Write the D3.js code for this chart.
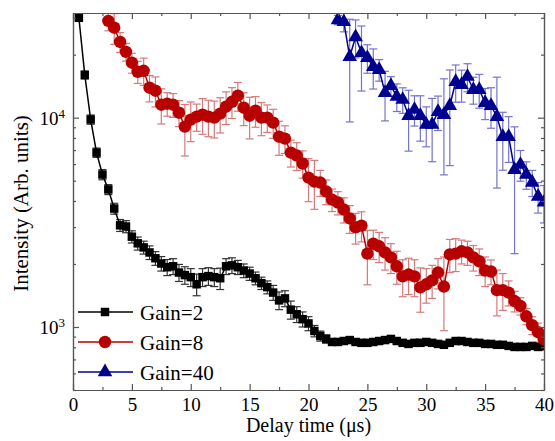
<!DOCTYPE html>
<html>
<head>
<meta charset="utf-8">
<script src="https://cdn.jsdelivr.net/npm/d3@7/dist/d3.min.js"></script>
<style>
  body { margin: 0; background: #fff; }
</style>
</head>
<body>
<div id="chart"></div>
<script>
// ---- data ----
var gain2X = [0.5,1,1.5,2,2.5,3,3.5,4,4.5,5,5.5,6,6.5,7,7.5,8,8.5,9,9.5,10,
              10.5,11,11.5,12,12.5,13,13.5,14,14.5,15,15.5,16,16.5,17,17.5,18,18.5,19,19.5,20,
              20.5,21,21.5,22,22.5,23,23.5,24,24.5,25,25.5,26,26.5,27,27.5,28,28.5,29,29.5,30,
              30.5,31,31.5,32,32.5,33,33.5,34,34.5,35,35.5,36,36.5,37,37.5,38,38.5,39,39.5,40];
var gain2Y = [30000,16000,9800,6810,5350,4540,3680,3060,3020,2700,2510,2400,2270,2130,2010,1930,1950,1820,1770,1730,
              1600,1730,1750,1730,1710,1950,1970,1930,1860,1800,1710,1620,1550,1460,1340,1370,1210,1150,1090,1040,
              957,906,877,848,848,857,866,848,840,840,848,857,866,877,857,840,830,840,840,848,
              840,830,822,840,857,857,848,840,840,830,830,822,822,812,803,803,803,812,803,812];
var gain2Err = [800,700,500,350,300,250,220,200,200,180,180,170,170,160,160,170,170,170,170,170,
                190,170,170,170,200,170,170,150,140,130,120,110,110,120,130,120,120,100,90,80,
                60,50,40,30,25,25,25,25,25,25,25,25,25,25,25,25,25,25,25,25,
                25,25,25,25,25,25,25,25,25,25,25,25,25,25,25,25,25,25,25,25];

var gain8X = [3,3.5,4,4.5,5,5.5,6,6.5,7,7.5,8,8.5,9,9.5,10,10.5,11,11.5,12,12.5,
              13,13.5,14,14.5,15,15.5,16,16.5,17,17.5,18,18.5,19,19.5,20,20.5,21,21.5,22,22.5,
              23,23.5,24,24.5,25,25.5,26,26.5,27,27.5,28,28.5,29,29.5,30,30.5,31,31.5,32,32.5,
              33,33.5,34,34.5,35,35.5,36,36.5,37,37.5,38,38.5,39,39.5,40];
var gain8Y = [29000,26900,23000,20630,18300,16570,16750,13900,13450,11530,11660,11530,10560,9060,9780,10110,10330,10110,10000,10450,
              11280,11910,12730,11160,10220,10800,10000,10000,9465,8110,7940,6810,6590,6040,5170,4950,4900,4440,4060,3930,
              3640,3300,2990,3050,2240,2500,2430,2270,2150,1950,1745,1780,1745,1546,1600,1670,1820,1560,2220,2240,
              2300,2270,2150,2060,1860,1840,1500,1500,1460,1330,1260,1125,1020,944,873];
var gain8Err = [3000,4500,2500,2000,2000,2000,2500,2000,2200,2200,1500,1500,1500,2500,2100,1500,2000,2000,2000,2000,
                2000,2000,2000,2000,2300,1800,1800,1500,1500,1500,1200,1000,1000,900,1200,1300,700,600,500,500,
                500,500,500,500,650,400,400,400,350,350,350,350,350,370,300,300,300,600,400,400,
                300,300,300,300,300,250,370,300,200,150,120,100,100,100,100];

var gain40X = [22.5,23,23.5,24,24.5,25,25.5,26,26.5,27,27.5,28,28.5,29,29.5,30,30.5,31,31.5,32,
               32.5,33,33.5,34,34.5,35,35.5,36,36.5,37,37.5,38,38.5,39,39.5,40];
var gain40Y = [29300,28700,19540,24300,20400,19300,17500,16940,13150,14200,12600,12190,10220,10920,10220,9260,9260,10680,10330,11400,
               14850,14360,15700,13600,13600,11790,11400,10110,8110,8110,5640,5970,5350,4900,4200,3940];
var gain40Err = [1500,3000,10000,5000,7000,3000,3800,2000,3500,1500,1900,1700,3300,1800,2500,2000,3100,2000,5000,5500,
                 3000,2500,2400,2000,2500,2000,2500,5500,2500,2000,3400,1000,800,700,700,800];

var xTicks = [0,5,10,15,20,25,30,35,40];
var xMinorTicks = [2.5,7.5,12.5,17.5,22.5,27.5,32.5,37.5];
var yMajorTicks = [1000,10000];
var legendLabels = ["Gain=2","Gain=8","Gain=40"];

// ---- layout ----
var W = 555, H = 441,
    plot = {left: 73, right: 544, top: 13, bottom: 390},
    serifStyle = "font-family:'Liberation Serif','Times New Roman',Tinos,'DejaVu Serif',serif";

var svg = d3.select("#chart").append("svg")
            .attr("width", W)
            .attr("height", H);

var x = d3.scaleLinear().domain([0, 40]).range([plot.left, plot.right]);
var y = d3.scaleLog().domain([500, 31623]).range([plot.bottom, plot.top]);

var yMinorTicks = y.ticks().filter(function(d) { return yMajorTicks.indexOf(d) < 0; });

var series = [
  {name: legendLabels[0], xs: gain2X, ys: gain2Y, err: gain2Err, color: "#000000", barColor: "#333333", shape: "square"},
  {name: legendLabels[1], xs: gain8X, ys: gain8Y, err: gain8Err, color: "#b80000", barColor: "#d47a7a", shape: "circle"},
  {name: legendLabels[2], xs: gain40X, ys: gain40Y, err: gain40Err, color: "#00008e", barColor: "#7474cc", shape: "triangle"}
];

svg.append("clipPath").attr("id", "clip")
   .append("rect")
   .attr("x", plot.left).attr("y", plot.top)
   .attr("width", plot.right - plot.left)
   .attr("height", plot.bottom - plot.top);

var drawMarker = function(g, shape, color) {
  if (shape === "circle") {
    g.append("circle").attr("r", 6.2).attr("fill", color);
  } else {
    var sym = shape === "square" ? d3.symbolSquare : d3.symbolTriangle;
    var size = shape === "square" ? 72 : 92;
    g.append("path").attr("d", d3.symbol().type(sym).size(size)()).attr("fill", color);
  }
};

var dataG = svg.append("g").attr("clip-path", "url(#clip)");

// error bars first
series.forEach(function(s) {
  var rows = s.xs.map(function(v, i) { return {x: v, y: s.ys[i], e: s.err[i]}; });
  var bars = dataG.append("g").attr("stroke", s.barColor).attr("stroke-width", 1.2).attr("fill", "none");
  rows.forEach(function(d) {
    var lo = Math.max(d.y - d.e, 100), hi = d.y + d.e;
    var px = x(d.x);
    bars.append("line").attr("x1", px).attr("x2", px).attr("y1", y(lo)).attr("y2", y(hi));
    bars.append("line").attr("x1", px - 4).attr("x2", px + 4).attr("y1", y(lo)).attr("y2", y(lo));
    bars.append("line").attr("x1", px - 4).attr("x2", px + 4).attr("y1", y(hi)).attr("y2", y(hi));
  });
});

// lines and markers
series.forEach(function(s) {
  var rows = s.xs.map(function(v, i) { return {x: v, y: s.ys[i]}; });
  dataG.append("path")
       .datum(rows)
       .attr("fill", "none")
       .attr("stroke", s.color)
       .attr("stroke-width", 1.5)
       .attr("d", d3.line().x(function(d) { return x(d.x); }).y(function(d) { return y(d.y); }));
  rows.forEach(function(d) {
    var g = dataG.append("g").attr("transform", "translate(" + x(d.x) + "," + y(d.y) + ")");
    drawMarker(g, s.shape, s.color);
  });
});

// ---- axes ----
var axisColor = "#555";
var styleAxis = function(g) {
  g.selectAll(".domain").attr("stroke", axisColor).attr("stroke-width", 1.2);
  g.selectAll(".tick line").attr("stroke", axisColor).attr("stroke-width", 1.2);
  g.selectAll(".tick text").attr("fill", "#000").attr("font-size", 19).attr("style", serifStyle);
};

// bottom
svg.append("g").attr("transform", "translate(0," + plot.bottom + ")")
   .call(d3.axisBottom(x).tickValues(xTicks).tickSizeInner(-6).tickSizeOuter(0).tickPadding(8))
   .call(styleAxis);
svg.append("g").attr("transform", "translate(0," + plot.bottom + ")")
   .call(d3.axisBottom(x).tickValues(xMinorTicks).tickSizeInner(-3).tickSizeOuter(0).tickFormat(""))
   .call(styleAxis);
// top
svg.append("g").attr("transform", "translate(0," + plot.top + ")")
   .call(d3.axisTop(x).tickValues(xTicks).tickSizeInner(-6).tickSizeOuter(0).tickFormat(""))
   .call(styleAxis);
svg.append("g").attr("transform", "translate(0," + plot.top + ")")
   .call(d3.axisTop(x).tickValues(xMinorTicks).tickSizeInner(-3).tickSizeOuter(0).tickFormat(""))
   .call(styleAxis);
// left
var leftAxis = svg.append("g").attr("transform", "translate(" + plot.left + ",0)")
   .call(d3.axisLeft(y).tickValues(yMajorTicks).tickSizeInner(-6).tickSizeOuter(0).tickPadding(8))
   .call(styleAxis);
leftAxis.selectAll(".tick text").each(function(d) {
  var t = d3.select(this).text("10").attr("dy", "0.36em");
  t.append("tspan").attr("dy", "-0.55em").attr("font-size", 13).text(Math.round(Math.log10(d)));
});
svg.append("g").attr("transform", "translate(" + plot.left + ",0)")
   .call(d3.axisLeft(y).tickValues(yMinorTicks).tickSizeInner(-3).tickSizeOuter(0).tickFormat(""))
   .call(styleAxis);
// right
svg.append("g").attr("transform", "translate(" + plot.right + ",0)")
   .call(d3.axisRight(y).tickValues(yMajorTicks).tickSizeInner(-6).tickSizeOuter(0).tickFormat(""))
   .call(styleAxis);
svg.append("g").attr("transform", "translate(" + plot.right + ",0)")
   .call(d3.axisRight(y).tickValues(yMinorTicks).tickSizeInner(-3).tickSizeOuter(0).tickFormat(""))
   .call(styleAxis);

// axis titles
svg.append("text")
   .attr("style", serifStyle)
   .attr("x", (plot.left + plot.right) / 2)
   .attr("y", 432)
   .attr("text-anchor", "middle")
   .attr("font-size", 20)
   .text("Delay time (\u03bcs)");

svg.append("text")
   .attr("style", serifStyle)
   .attr("transform", "translate(28," + ((plot.top + plot.bottom) / 2 + 2) + ") rotate(-90)")
   .attr("text-anchor", "middle")
   .attr("font-size", 21)
   .text("Intensity (Arb. units)");

// legend
var legendRowY = d3.scaleBand().domain(legendLabels).range([297, 387]);
series.forEach(function(s) {
  var cy = legendRowY(s.name) + legendRowY.bandwidth() / 2;
  var g = svg.append("g");
  g.append("line").attr("x1", 78).attr("x2", 133).attr("y1", cy).attr("y2", cy)
   .attr("stroke", s.color).attr("stroke-width", 1.5);
  var m = g.append("g").attr("transform", "translate(105," + cy + ")");
  drawMarker(m, s.shape, s.color);
  g.append("text").attr("style", serifStyle).attr("x", 140).attr("y", cy + 7.5)
   .attr("font-size", 21)
   .text(s.name);
});
</script>
</body>
</html>
